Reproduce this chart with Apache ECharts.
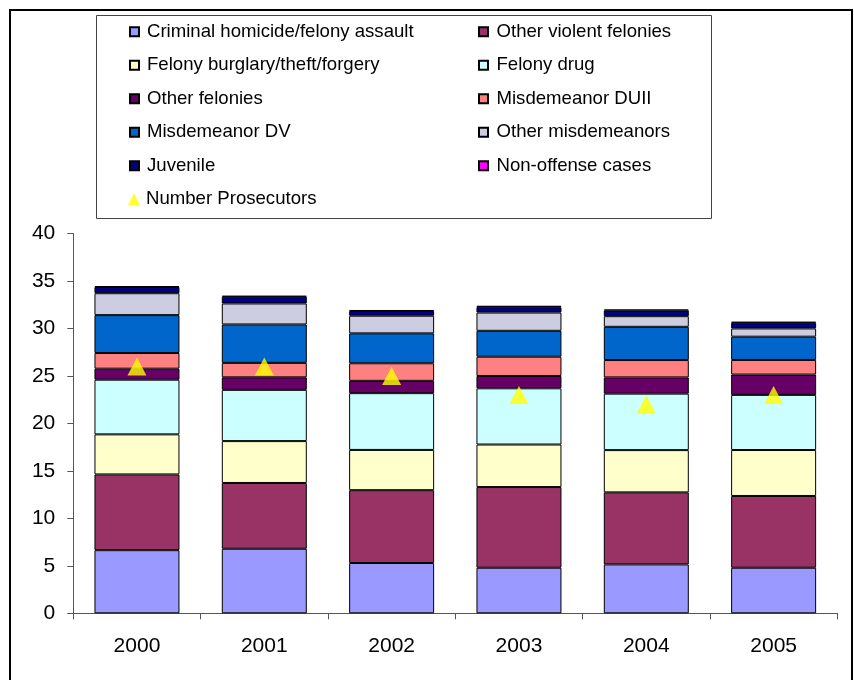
<!DOCTYPE html>
<html>
<head>
<meta charset="utf-8">
<script src="https://cdn.jsdelivr.net/npm/echarts@6/dist/echarts.min.js"></script>
<style>html,body{margin:0;padding:0;background:#fff}#c{width:854px;height:680px}</style>
</head>
<body>
<div id="c"></div>
<script>
var years = ['2000', '2001', '2002', '2003', '2004', '2005'];
var homicide   = [6.65, 6.8, 5.3, 4.8, 5.15, 4.8];
var violent    = [7.98, 6.93, 7.67, 8.5, 7.59, 7.56];
var burglary   = [4.22, 4.41, 4.24, 4.48, 4.45, 4.84];
var drug       = [5.76, 5.4, 5.98, 5.92, 5.95, 5.81];
var otherFel   = [1.16, 1.32, 1.3, 1.3, 1.71, 2.14];
var duii       = [1.65, 1.52, 1.85, 2.03, 1.83, 1.54];
var dv         = [3.99, 4.05, 3.15, 2.73, 3.5, 2.45];
var otherMisd  = [2.31, 2.21, 1.86, 1.92, 1.12, 0.87];
var juvenile   = [0.65, 0.71, 0.5, 0.57, 0.6, 0.6];
var nonOffense = [0.1, 0.1, 0.1, 0.15, 0.1, 0.1];
var prosecutors = [26, 26, 25, 23, 22, 23];
var yTicks = [0, 5, 10, 15, 20, 25, 30, 35, 40];

var names = ['Criminal homicide/felony assault', 'Other violent felonies',
  'Felony burglary/theft/forgery', 'Felony drug', 'Other felonies', 'Misdemeanor DUII',
  'Misdemeanor DV', 'Other misdemeanors', 'Juvenile', 'Non-offense cases'];
var colors = ['#9999FF', '#993366', '#FFFFCC', '#CCFFFF', '#660066', '#FF8080',
  '#0066CC', '#CDCDE1', '#000080', '#FF00FF'];
var values = [homicide, violent, burglary, drug, otherFel, duii, dv, otherMisd, juvenile, nonOffense];

var FONT = '"Liberation Sans", Arial, sans-serif';

var series = values.map(function (v, i) {
  return {
    name: names[i], type: 'bar', stack: 'total', data: v,
    barWidth: 85,
    itemStyle: { color: colors[i], borderColor: '#000', borderWidth: 1 },
    emphasis: { disabled: true }
  };
});
series.push({
  name: 'Number Prosecutors', type: 'scatter', data: prosecutors,
  symbol: 'triangle', symbolSize: [19, 18],
  itemStyle: { color: '#FFFF00' }, z: 10
});

var legendText = { fontFamily: FONT, fontSize: 18.6, color: '#000', lineHeight: 20 };

function sq(list) {
  return list.map(function (n) { return { name: n, icon: 'rect' }; });
}

var chart = echarts.init(document.getElementById('c'), null, { renderer: 'canvas' });
chart.setOption({
  animation: false,
  backgroundColor: '#fff',
  grid: { left: 73.3, right: 16.7, top: 233.6, bottom: 66.7, containLabel: false },
  xAxis: {
    type: 'category', data: years,
    axisLine: { lineStyle: { color: '#555', width: 1 } },
    axisTick: { show: true, length: 6, lineStyle: { color: '#555' } },
    axisLabel: { fontFamily: FONT, fontSize: 21, color: '#000', margin: 22 }
  },
  yAxis: {
    type: 'value', min: yTicks[0], max: yTicks[yTicks.length - 1], interval: 5,
    axisLine: { show: true, lineStyle: { color: '#555', width: 1 } },
    axisTick: { show: true, length: 6, lineStyle: { color: '#555' } },
    splitLine: { show: false },
    axisLabel: { fontFamily: FONT, fontSize: 21, color: '#000', margin: 18 }
  },
  legend: [
    {
      data: sq([names[0], names[2], names[4], names[6], names[8]]),
      orient: 'vertical', left: 129, top: 21.7, padding: 0,
      itemWidth: 9, itemHeight: 9, itemGap: 13.5,
      textStyle: Object.assign({ padding: [0, 0, 0, 3] }, legendText),
      selectedMode: false
    },
    {
      data: sq([names[1], names[3], names[5], names[7], names[9]]),
      orient: 'vertical', left: 478, top: 21.7, padding: 0,
      itemWidth: 9, itemHeight: 9, itemGap: 13.5,
      textStyle: Object.assign({ padding: [0, 0, 0, 3.5] }, legendText),
      selectedMode: false
    },
    {
      data: [{ name: 'Number Prosecutors', icon: 'triangle' }],
      orient: 'vertical', left: 128, top: 189.3, padding: 0,
      itemWidth: 12, itemHeight: 12,
      textStyle: Object.assign({ padding: [0, 0, 0, 1] }, legendText),
      selectedMode: false
    }
  ],
  graphic: [
    { type: 'rect', shape: { x: 10, y: 10, width: 842, height: 690 },
      style: { fill: 'none', stroke: '#000', lineWidth: 2 }, silent: true },
    { type: 'rect', shape: { x: 96.5, y: 15.5, width: 615, height: 203 },
      style: { fill: 'none', stroke: '#444', lineWidth: 1 }, silent: true }
  ],
  series: series
});
</script>
</body>
</html>
